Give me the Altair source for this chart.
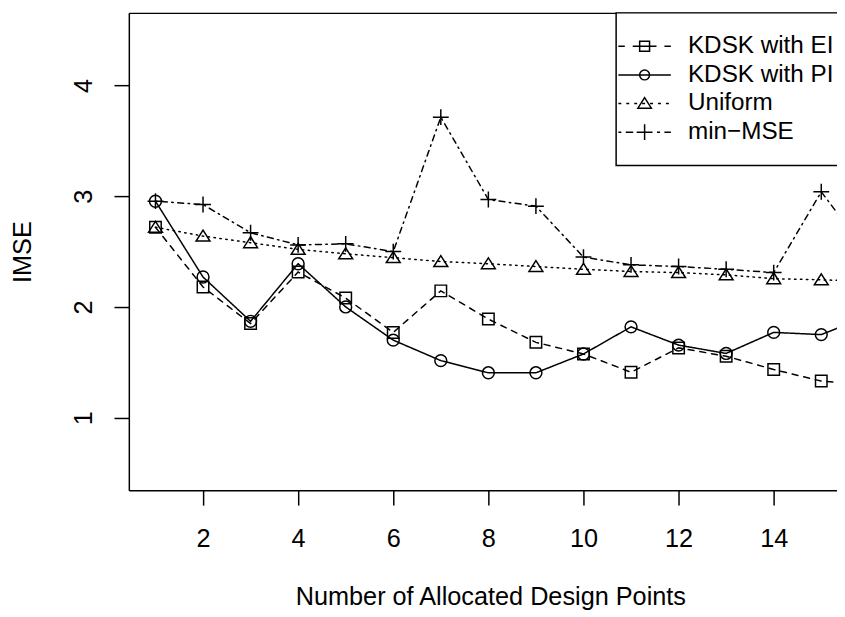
import altair as alt
import pandas as pd

FONT = "Liberation Sans"
FS = 25.5
LFS = 24.5

# ---- data ----
x_points = list(range(1, 17))
series_names = ["KDSK with EI", "KDSK with PI", "Uniform", "min\u2212MSE"]
ei_vals = [2.72, 2.18, 1.85, 2.315, 2.08, 1.77, 2.145, 1.89, 1.68, 1.575, 1.41, 1.63, 1.555, 1.435, 1.33, 1.30]
pi_vals = [2.955, 2.27, 1.87, 2.39, 2.00, 1.70, 1.515, 1.405, 1.405, 1.575, 1.82, 1.655, 1.58, 1.77, 1.75, 1.92]
uniform_vals = [2.72, 2.64, 2.58, 2.52, 2.48, 2.445, 2.41, 2.39, 2.365, 2.34, 2.32, 2.31, 2.29, 2.255, 2.245, 2.23]
minmse_vals = [2.955, 2.925, 2.67, 2.56, 2.57, 2.50, 3.714, 2.97, 2.91, 2.45, 2.38, 2.365, 2.34, 2.31, 3.04, 2.47]
x_ticks = [2, 4, 6, 8, 10, 12, 14]
y_ticks = [1, 2, 3, 4]

rows = []
for name, vals in zip(series_names, [ei_vals, pi_vals, uniform_vals, minmse_vals]):
    for xv, yv in zip(x_points, vals):
        rows.append({"x": xv, "y": yv, "series": name})
df = pd.DataFrame(rows)

# ---- styles ----
dash_range = [[6, 6], [1, 0], [1.5, 4.5], [1.5, 4.5, 6, 4.5]]

SQ = "M-0.58,-0.58H0.58V0.58H-0.58Z"
CI = "M0.6,0A0.6,0.6 0 1,1 -0.6,0A0.6,0.6 0 1,1 0.6,0Z"
TR = "M0,-0.6L0.7,0.5H-0.7Z"
PL = "M-0.8,0H0.8M0,-0.8V0.8"
point_paths = [SQ, CI, TR, PL]


def seg_path(pattern, start=-2.65, end=2.65):
    parts = []
    pos = start
    i = 0
    on = True
    while pos < end - 1e-9:
        L = pattern[i % len(pattern)]
        if on:
            e = min(pos + L, end)
            parts.append(f"M{pos:.3f},0H{e:.3f}")
        pos += L
        i += 1
        on = not on
    return "".join(parts)


LSQ = "M-0.5,-0.5H0.5V0.5H-0.5Z"
LCI = "M0.5,0A0.5,0.5 0 1,1 -0.5,0A0.5,0.5 0 1,1 0.5,0Z"
LTR = "M0,-0.6L0.68,0.47H-0.68Z"
LPL = "M-0.8,0H0.8M0,-0.8V0.8"
legend_paths = [
    "M-2.65,0H-2.0M-1.2,0H1.2M2.0,0H2.65" + LSQ,
    "M-2.65,0H2.65" + LCI,
    seg_path([0.3, 0.5]) + LTR,
    seg_path([0.3, 0.45, 0.75, 0.45]) + LPL,
]

x_scale = alt.Scale(domain=[0.44, 15.56], range=[0, 726], nice=False, zero=False)
y_scale = alt.Scale(domain=[0.344, 4.656], nice=False, zero=False)

x_axis = alt.Axis(
    values=x_ticks, grid=False, domain=True, domainColor="black", domainWidth=1.5,
    ticks=True, tickSize=15, tickWidth=1.5, tickColor="black",
    labelFont=FONT, labelFontSize=FS, labelColor="black", labelPadding=42,
    labelBaseline="alphabetic", labelAlign="center", labelFlush=False, labelOverlap=False,
    title="Number of Allocated Design Points", titleFont=FONT, titleFontSize=FS,
    titleFontWeight="normal", titleColor="black", titleX=365, titleY=115,
    titleBaseline="alphabetic", titleAlign="center",
)
x_axis_top = alt.Axis(
    orient="top", grid=False, domain=True, domainColor="black", domainWidth=1.5,
    ticks=False, labels=False, title=None,
)
y_axis = alt.Axis(
    values=y_ticks, grid=False, domain=True, domainColor="black", domainWidth=1.5,
    ticks=True, tickSize=15, tickWidth=1.5, tickColor="black",
    labelFont=FONT, labelFontSize=FS, labelColor="black", labelPadding=23,
    labelAngle=270, labelAlign="center", labelBaseline="alphabetic",
    labelFlush=False, labelOverlap=False,
    title="IMSE", titleFont=FONT, titleFontSize=FS, titleFontWeight="normal",
    titleColor="black", titleAngle=270, titleX=-99, titleY=241,
    titleAlign="center", titleBaseline="alphabetic",
)

lines = alt.Chart(df).mark_line(
    clip=True, color="black", strokeWidth=1.5, strokeCap="round"
).encode(
    x=alt.X("x:Q", scale=x_scale, axis=x_axis),
    y=alt.Y("y:Q", scale=y_scale, axis=y_axis),
    strokeDash=alt.StrokeDash("series:N", scale=alt.Scale(domain=series_names, range=dash_range), legend=None),
    order="x:Q",
)

points = alt.Chart(df).mark_point(
    clip=True, filled=False, color="black", strokeWidth=1.5, size=400, opacity=1
).encode(
    x=alt.X("x:Q", scale=x_scale, axis=None),
    y=alt.Y("y:Q", scale=y_scale, axis=y_axis),
    shape=alt.Shape("series:N", scale=alt.Scale(domain=series_names, range=point_paths), legend=None),
)

legend = alt.Legend(
    title=None, orient="none", legendX=492, legendY=0,
    strokeColor="black", fillColor="white", padding=21.5,
    labelFont=FONT, labelFontSize=LFS, labelColor="black", labelLimit=400,
    labelOffset=31.5, symbolOffset=-5, rowPadding=3.9,
    symbolSize=400, symbolStrokeWidth=1.5, symbolStrokeColor="black",
    symbolFillColor="transparent",
)

legend_layer = alt.Chart(df).transform_filter("datum.x > 1000").mark_point(
    filled=False, color="black", strokeWidth=1.5, size=400, opacity=1
).encode(
    x=alt.X("x:Q", scale=x_scale, axis=x_axis_top),
    shape=alt.Shape("series:N", scale=alt.Scale(domain=series_names, range=legend_paths), legend=legend),
)

chart = alt.layer(lines, points, legend_layer).resolve_scale(
    shape="independent"
).resolve_legend(
    shape="independent"
).resolve_axis(
    x="independent"
).properties(
    width=715, height=482,
    padding={"left": 122, "top": 2, "right": 0, "bottom": 122},
    autosize=alt.AutoSizeParams(type="none"),
    background="white",
).configure_view(stroke="transparent").configure_legend(strokeWidth=1.5)

chart.save("out.html", embed_options={"renderer": "svg", "actions": False})
